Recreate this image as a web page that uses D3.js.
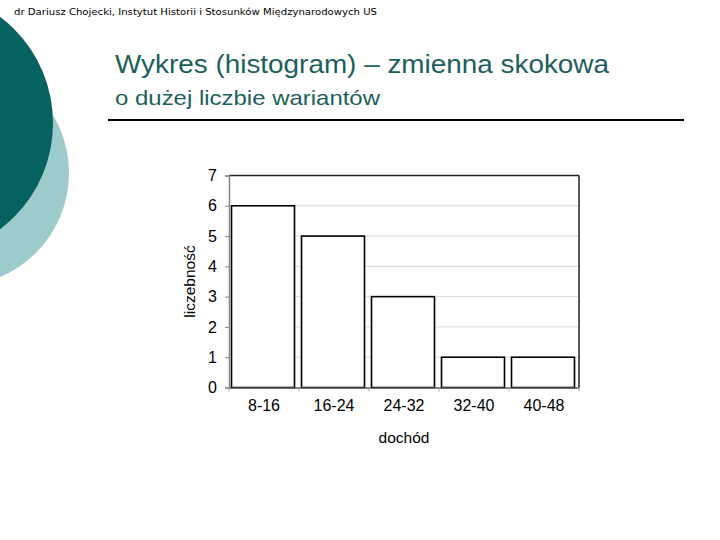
<!DOCTYPE html>
<html><head><meta charset="utf-8">
<script src="https://cdn.jsdelivr.net/npm/d3@7"></script>
<style>body{margin:0;background:#fff}svg{display:block}</style>
</head><body>
<svg id="c" width="720" height="540"></svg>
<script>
const categories = ["8-16","16-24","24-32","32-40","40-48"];
const counts = [6,5,3,1,1];
const yTicks = [0,1,2,3,4,5,6,7];
const headerText = "dr Dariusz Chojecki, Instytut Historii i Stosunków Międzynarodowych US";
const titleText = "Wykres (histogram) – zmienna skokowa";
const subtitleText = "o dużej liczbie wariantów";
const xLabel = "dochód";
const yLabel = "liczebność";

const svg = d3.select("#c");
svg.append("rect").attr("width",720).attr("height",540).attr("fill","#fff");

// decorative circles
svg.append("circle").attr("cx",-44).attr("cy",173).attr("r",113).attr("fill","#9dcbcb");
svg.append("circle").attr("cx",-80).attr("cy",123).attr("r",133).attr("fill","#05625f");

svg.append("text").attr("x",14).attr("y",15).attr("font-family","DejaVu Sans, Verdana, sans-serif")
  .attr("font-size",9.5).attr("fill","#000").attr("textLength",363).attr("lengthAdjust","spacingAndGlyphs")
  .text(headerText);

svg.append("text").attr("x",115).attr("y",73).attr("font-family","Liberation Sans, Arial, sans-serif")
  .attr("font-size",26).attr("fill","#1d5f5c").attr("textLength",494).attr("lengthAdjust","spacingAndGlyphs").text(titleText);
svg.append("text").attr("x",115).attr("y",105).attr("font-family","Liberation Sans, Arial, sans-serif")
  .attr("font-size",21).attr("fill","#1d5f5c").attr("textLength",265).attr("lengthAdjust","spacingAndGlyphs").text(subtitleText);
svg.append("line").attr("x1",108).attr("x2",684).attr("y1",120).attr("y2",120).attr("stroke","#000").attr("stroke-width",2);

const L=229, R=579, T=175.5, B=387.5;
const x = d3.scaleBand().domain(categories).range([L,R]).padding(0);
const y = d3.scaleLinear().domain([0,7]).range([B,T]);
const g = svg.append("g");

// gridlines
g.selectAll(".grid").data(yTicks.filter(d=>d>0&&d<7)).join("line")
  .attr("x1",L).attr("x2",R).attr("y1",d=>y(d)).attr("y2",d=>y(d))
  .attr("stroke","#d9d9d9").attr("stroke-width",1);

// frame top/right
g.append("line").attr("x1",L).attr("x2",R).attr("y1",T).attr("y2",T).attr("stroke","#222").attr("stroke-width",1.5);
g.append("line").attr("x1",R).attr("x2",R).attr("y1",T).attr("y2",B).attr("stroke","#222").attr("stroke-width",1.5);

// bars
g.selectAll(".bar").data(counts).join("rect")
  .attr("x",(d,i)=>x(categories[i])+2.5)
  .attr("width",x.bandwidth()-7)
  .attr("y",d=>y(d)).attr("height",d=>B-y(d))
  .attr("fill","#fff").attr("stroke","#000").attr("stroke-width",1.6);

// y axis
const yAxis = d3.axisLeft(y).tickValues(yTicks).tickSize(4).tickPadding(8).tickFormat(d3.format("d"));
const ya = g.append("g").attr("transform",`translate(${L},0)`).call(yAxis);
ya.select(".domain").attr("stroke","#888").attr("stroke-width",1.5);
ya.selectAll(".tick line").attr("stroke","#888");
ya.selectAll(".tick text").attr("font-family","Liberation Sans, Arial, sans-serif").attr("font-size",16).attr("fill","#000");

// x axis
const xAxis = d3.axisBottom(x).tickSize(0).tickPadding(12);
const xa = g.append("g").attr("transform",`translate(0,${B})`).call(xAxis);
xa.select(".domain").attr("stroke","#555").attr("stroke-width",1.5);
xa.selectAll(".tick text").attr("font-family","Liberation Sans, Arial, sans-serif").attr("font-size",16).attr("fill","#000");
// boundary ticks
const bounds = categories.map(c=>x(c)).concat([R]);
g.selectAll(".bt").data(bounds).join("line")
  .attr("x1",d=>d).attr("x2",d=>d).attr("y1",B).attr("y2",B+4).attr("stroke","#aaa");

svg.append("text").attr("x",(L+R)/2).attr("y",443).attr("text-anchor","middle")
  .attr("font-family","Liberation Sans, Arial, sans-serif").attr("font-size",15.5).text(xLabel);
svg.append("text").attr("transform",`translate(195,${(T+B)/2}) rotate(-90)`).attr("text-anchor","middle")
  .attr("font-family","Liberation Sans, Arial, sans-serif").attr("font-size",15.5).text(yLabel);
</script>
</body></html>
